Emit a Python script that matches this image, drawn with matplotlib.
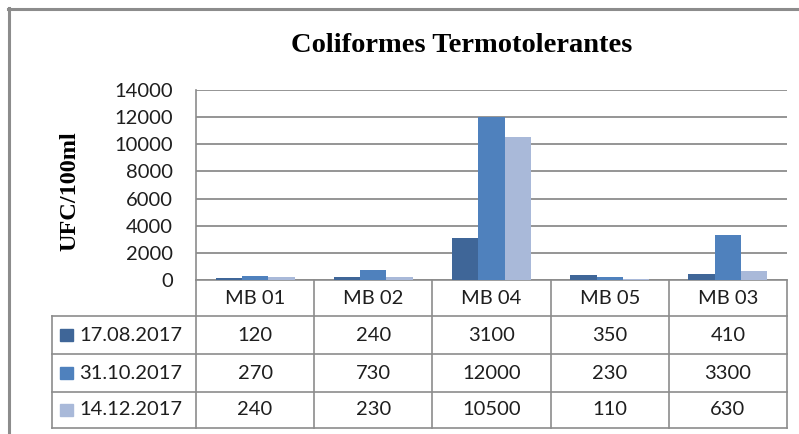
import numpy as np
import matplotlib
matplotlib.use("Agg")
import matplotlib.pyplot as plt
from matplotlib.lines import Line2D
from matplotlib.patches import Rectangle

# dados
pontos = ["MB 01", "MB 02", "MB 04", "MB 05", "MB 03"]
datas = ["17.08.2017", "31.10.2017", "14.12.2017"]
v_17_08 = [120, 240, 3100, 350, 410]
v_31_10 = [270, 730, 12000, 230, 3300]
v_14_12 = [240, 230, 10500, 110, 630]
series = [v_17_08, v_31_10, v_14_12]
cores = ["#3F6698", "#4F81BD", "#A9B9D9"]

W, H = 799, 434
fig = plt.figure(figsize=(W / 100, H / 100), dpi=100)
ax = fig.add_axes([196 / W, (H - 280) / H, 591 / W, 190 / H])

grid_c = "#8C8C8C"
fonte = "Lato"
txt_c = "#1E1E1E"

x = np.arange(len(pontos))
w = 0.2225
for i, (vals, c) in enumerate(zip(series, cores)):
    ax.bar(x + (i - 1) * w, vals, width=w, color=c, zorder=3, linewidth=0)

ax.set_xlim(-0.5, len(pontos) - 0.5)
ax.set_ylim(0, 14000)
ax.set_yticks(np.arange(0, 14001, 2000))
ax.set_yticklabels([str(v) for v in range(0, 14001, 2000)], fontfamily=fonte,
                   fontsize=14.5, color=txt_c)
ax.tick_params(axis="y", length=0, pad=16.5)
ax.set_xticks([])
ax.yaxis.grid(True, color=grid_c, linewidth=1.3, zorder=0)
for s in ["top", "right"]:
    ax.spines[s].set_visible(False)
ax.spines["left"].set_color(grid_c)
ax.spines["bottom"].set_color(grid_c)
ax.spines["left"].set_linewidth(1.2)
ax.spines["bottom"].set_linewidth(1.2)

# tabela de dados
tr = ax.get_xaxis_transform()
linhas_y = [0, -0.1895, -0.3895, -0.5895, -0.7789]
x_esq = -1.718
for yy in linhas_y[1:]:
    ax.add_line(Line2D([x_esq, len(pontos) - 0.5], [yy, yy], transform=tr,
                       color=grid_c, lw=1.2, clip_on=False))
for xx in np.arange(-0.5, len(pontos), 1.0):
    ax.add_line(Line2D([xx, xx], [0, linhas_y[-1]], transform=tr,
                       color=grid_c, lw=1.2, clip_on=False))
ax.add_line(Line2D([x_esq, x_esq], [linhas_y[1], linhas_y[-1]], transform=tr,
                   color=grid_c, lw=1.2, clip_on=False))

for j, p in enumerate(pontos):
    ax.text(j, (linhas_y[0] + linhas_y[1]) / 2, p, transform=tr, ha="center",
            va="center", fontfamily=fonte, fontsize=14.5, color=txt_c)
for i, (d, vals, c) in enumerate(zip(datas, series, cores)):
    yc = (linhas_y[i + 1] + linhas_y[i + 2]) / 2
    ax.add_patch(Rectangle((-1.65, yc - 0.034), 0.11, 0.068, transform=tr,
                           color=c, clip_on=False))
    ax.text(-1.49, yc, d, transform=tr, ha="left", va="center",
            fontfamily=fonte, fontsize=14.5, color=txt_c)
    for j, v in enumerate(vals):
        ax.text(j, yc, str(v), transform=tr, ha="center", va="center",
                fontfamily=fonte, fontsize=14.5, color=txt_c)

# titulo e eixo
fig.text(462 / W, (H - 52) / H, "Coliformes Termotolerantes", ha="center",
         va="baseline", fontfamily="Liberation Serif", fontweight="bold",
         fontsize=20.5)
fig.text(70 / W, (H - 191) / H, "UFC/100ml", rotation=90, ha="center",
         va="center", fontfamily="Liberation Serif", fontweight="bold",
         fontsize=17.5)

# moldura
fig.add_artist(Line2D([8 / W, 1], [(H - 9) / H] * 2, color="#8C8C8C", lw=2.2))
fig.add_artist(Line2D([9 / W] * 2, [0, (H - 8) / H], color="#8C8C8C", lw=2.2))

fig.savefig("out.png", dpi=100)
